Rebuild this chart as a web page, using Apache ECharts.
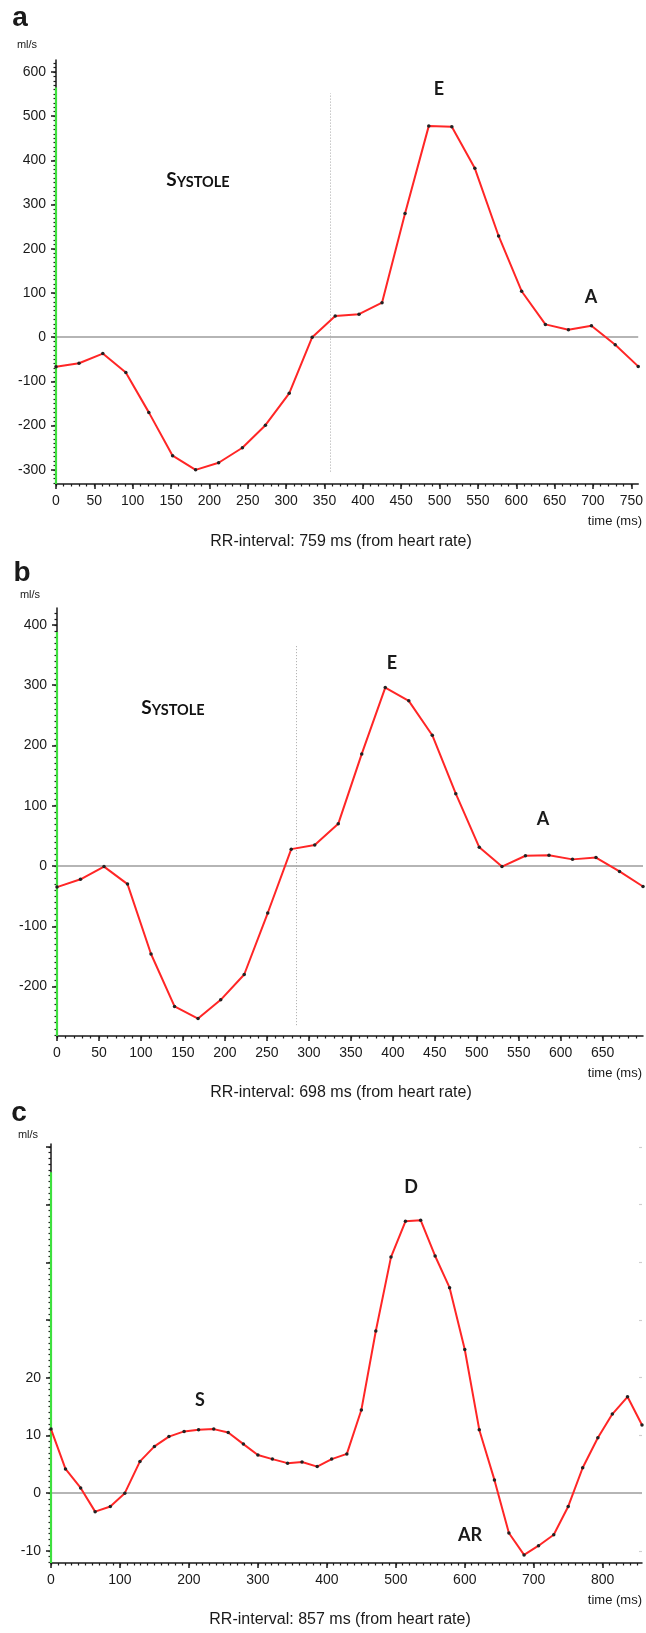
<!DOCTYPE html>
<html>
<head>
<meta charset="utf-8">
<script src="https://cdn.jsdelivr.net/npm/echarts@6/dist/echarts.min.js"></script>
<style>
html, body { margin: 0; padding: 0; background: #fff; }
#chart { width: 646px; height: 1633px; }
</style>
</head>
<body>
<div id="chart"></div>
<script>
// panel a
const aTime = [0, 30, 61, 91, 121, 152, 182, 212, 243, 273, 304, 334, 364, 395, 425, 455, 486, 516, 546, 577, 607, 638, 668, 698, 729, 759];
const aFlow = [-67, -59, -37, -80, -170, -268, -300, -284, -250, -199, -127, 0, 48, 52, 78, 280, 478, 476, 382, 229, 104, 29, 17, 26, -17, -66];
const aYTicks = [-300, -200, -100, 0, 100, 200, 300, 400, 500, 600];
const aXTicks = [0, 50, 100, 150, 200, 250, 300, 350, 400, 450, 500, 550, 600, 650, 700, 750];

// panel b
const bTime = [0, 28, 56, 84, 112, 140, 168, 195, 223, 251, 279, 307, 335, 363, 391, 419, 447, 475, 503, 530, 558, 586, 614, 642, 670, 698];
const bFlow = [-35, -22, -1, -30, -146, -233, -253, -222, -180, -78, 28, 35, 70, 186, 296, 274, 217, 120, 31, -1, 17, 18, 11, 14, -9, -34];
const bYTicks = [-200, -100, 0, 100, 200, 300, 400];
const bXTicks = [0, 50, 100, 150, 200, 250, 300, 350, 400, 450, 500, 550, 600, 650];

// panel c
const cTime = [0, 21, 43, 64, 86, 107, 129, 150, 171, 193, 214, 236, 257, 279, 300, 321, 343, 364, 386, 407, 429, 450, 471, 493, 514, 536, 557, 578, 600, 621, 643, 664, 686, 707, 729, 750, 771, 793, 814, 836, 857];
const cFlow = [11.1, 4.2, 0.9, -3.2, -2.3, 0, 5.5, 8.1, 9.8, 10.7, 11.0, 11.1, 10.5, 8.5, 6.6, 5.9, 5.2, 5.4, 4.6, 5.9, 6.8, 14.4, 28.1, 40.9, 47.1, 47.3, 41.1, 35.6, 24.9, 11.0, 2.3, -6.9, -10.7, -9.1, -7.2, -2.3, 4.4, 9.6, 13.7, 16.7, 11.8];
const cYTicks = [-10, 0, 10, 20, 30, 40, 50, 60];
const cYLabels = [-10, 0, 10, 20];
const cXTicks = [0, 100, 200, 300, 400, 500, 600, 700, 800];

const FONT = 'Liberation Sans';
const INK = '#1a1a1a';

const panels = [
  { time: aTime, flow: aFlow, xMax: 759, yMin: -332, yMax: 627, yTicks: aYTicks, yLabels: aYTicks, yStep: 10, xTicks: aXTicks, xStep: 10,
    greenTop: 565, divider: { x: 357, from: -304, to: 552 }, grid: { left: 56, right: 4, top: 60, height: 424 } },
  { time: bTime, flow: bFlow, xMax: 698, yMin: -282, yMax: 428, yTicks: bYTicks, yLabels: bYTicks, yStep: 10, xTicks: bXTicks, xStep: 10,
    greenTop: 388, divider: { x: 285, from: -264, to: 365 }, grid: { left: 57, right: 3, top: 608, height: 428 } },
  { time: cTime, flow: cFlow, xMax: 857, yMin: -12.1, yMax: 60.5, yTicks: cYTicks, yLabels: cYLabels, yStep: 1, xTicks: cXTicks, xStep: 10,
    greenTop: 55.6, divider: null, rightTicks: true, grid: { left: 51, right: 4, top: 1144, height: 419 } }
];

function steps(lo, hi, step) {
  const out = [];
  for (let v = Math.ceil(lo / step) * step; v <= hi + 1e-9; v += step) out.push(Math.round(v * 100) / 100);
  return out;
}

const grid = [], xAxis = [], yAxis = [], series = [];

panels.forEach((p, i) => {
  grid.push(p.grid);
  const xi = xAxis.length;
  xAxis.push({
    gridIndex: i, type: 'value', min: 0, max: p.xMax, position: 'bottom',
    axisLine: { show: true, onZero: false, lineStyle: { color: INK, width: 1.5 } },
    axisTick: { show: true, length: 5, customValues: p.xTicks, lineStyle: { color: INK, width: 1.5 } },
    axisLabel: { customValues: p.xTicks, color: INK, fontSize: 14, fontFamily: FONT, margin: 10 },
    splitLine: { show: false }
  });
  // minor ticks, every 10 ms
  xAxis.push({
    gridIndex: i, type: 'value', min: 0, max: p.xMax, position: 'bottom',
    axisLine: { show: false, onZero: false },
    axisTick: { show: true, length: 2.5, customValues: steps(0, p.xMax, p.xStep), lineStyle: { color: INK, width: 1.2 } },
    axisLabel: { show: false }, splitLine: { show: false }
  });
  const yi = yAxis.length;
  yAxis.push({
    gridIndex: i, type: 'value', min: p.yMin, max: p.yMax, position: 'left',
    axisLine: { show: true, onZero: false, lineStyle: { color: INK, width: 1.5 } },
    axisTick: { show: true, length: 5, customValues: p.yTicks, lineStyle: { color: INK, width: 1.5 } },
    axisLabel: { customValues: p.yLabels, color: INK, fontSize: 14, fontFamily: FONT, margin: 10 },
    splitLine: { show: false }
  });
  yAxis.push({
    gridIndex: i, type: 'value', min: p.yMin, max: p.yMax, position: 'left',
    axisLine: { show: false, onZero: false },
    axisTick: { show: true, length: 2.5, customValues: steps(p.yMin, p.yMax, p.yStep), lineStyle: { color: INK, width: 1.2 } },
    axisLabel: { show: false }, splitLine: { show: false }
  });
  if (p.rightTicks) {
    yAxis.push({
      gridIndex: i, type: 'value', min: p.yMin, max: p.yMax, position: 'right',
      axisLine: { show: false, onZero: false },
      axisTick: { show: true, inside: true, length: 3, customValues: p.yTicks, lineStyle: { color: '#cfcfcf', width: 1.2 } },
      axisLabel: { show: false }, splitLine: { show: false }
    });
  }

  const marks = [
    { yAxis: 0, lineStyle: { color: '#b5b5b5', width: 1.8, type: 'solid' } },
    [{ coord: [0, p.yMin], lineStyle: { color: '#3ee03e', width: 2.2, type: 'solid' } }, { coord: [0, p.greenTop] }]
  ];
  if (p.divider) {
    marks.push([{ coord: [p.divider.x, p.divider.from], lineStyle: { color: '#a8a8a8', width: 1, type: [1, 2] } },
                { coord: [p.divider.x, p.divider.to] }]);
  }

  series.push({
    type: 'line', xAxisIndex: xi, yAxisIndex: yi,
    data: p.time.map((t, k) => [t, p.flow[k]]),
    symbol: 'circle', symbolSize: 3.5, showAllSymbol: true,
    lineStyle: { color: '#ff2626', width: 2 },
    itemStyle: { color: '#222' },
    markLine: { silent: true, symbol: 'none', z: 1, label: { show: false }, data: marks }
  });
});

function txt(x, y, text, font, align) {
  return { type: 'text', x: x, y: y, silent: true,
    style: { text: text, font: font, fill: INK, align: align || 'center', verticalAlign: 'middle' } };
}
function systole(x, y) {
  return { type: 'text', x: x, y: y, silent: true,
    style: { text: '{s|S}{r|YSTOLE}', align: 'center', verticalAlign: 'middle',
      rich: { s: { font: 'bold 19px Lato', fill: '#111', verticalAlign: 'bottom' },
              r: { font: 'bold 14.5px Lato', fill: '#111', verticalAlign: 'bottom' } } } };
}

const peak = 'bold 18px Lato';
const graphic = [
  txt(20, 18, 'a', 'bold 28px ' + FONT), txt(22, 573, 'b', 'bold 28px ' + FONT), txt(19, 1113, 'c', 'bold 28px ' + FONT),
  txt(27, 45, 'ml/s', '11px ' + FONT), txt(30, 595, 'ml/s', '11px ' + FONT), txt(28, 1135, 'ml/s', '11px ' + FONT),
  systole(198, 180), txt(439, 89, 'E', peak), txt(591, 297, 'A', peak),
  systole(173, 708), txt(392, 663, 'E', peak), txt(543, 819, 'A', peak),
  txt(200, 1400, 'S', peak), txt(411, 1187, 'D', peak), txt(470, 1535, 'AR', peak),
  txt(642, 521, 'time (ms)', '13px ' + FONT, 'right'),
  txt(642, 1073, 'time (ms)', '13px ' + FONT, 'right'),
  txt(642, 1600, 'time (ms)', '13px ' + FONT, 'right'),
  txt(341, 542, 'RR-interval: 759 ms (from heart rate)', '16px ' + FONT),
  txt(341, 1093, 'RR-interval: 698 ms (from heart rate)', '16px ' + FONT),
  txt(340, 1620, 'RR-interval: 857 ms (from heart rate)', '16px ' + FONT)
];

const chart = echarts.init(document.getElementById('chart'));
chart.setOption({
  animation: false,
  backgroundColor: '#fff',
  grid: grid, xAxis: xAxis, yAxis: yAxis, series: series, graphic: graphic
});
</script>
</body>
</html>
